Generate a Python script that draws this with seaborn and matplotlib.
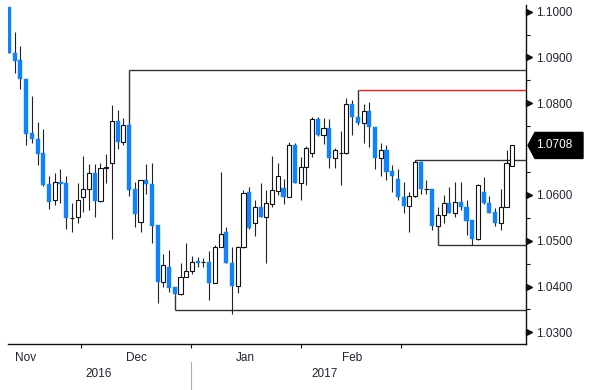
import matplotlib
matplotlib.use("Agg")
import matplotlib.pyplot as plt
import matplotlib.transforms as mtransforms
from matplotlib.patches import Polygon
import numpy as np
import pandas as pd
import seaborn as sns

# ---------------- data (EUR/USD style daily candles) ----------------
opens = [1.1010, 1.0909, 1.0895, 1.0852, 1.0736, 1.0721, 1.0691, 1.0624, 1.0589, 1.0628,
         1.0627, 1.0549, 1.0552, 1.0596, 1.0612, 1.0648, 1.0587, 1.0659, 1.0669, 1.0762,
         1.0716, 1.0753, 1.0613, 1.0541, 1.0633, 1.0624, 1.0534, 1.0410, 1.0443, 1.0398,
         1.0384, 1.0420, 1.0434, 1.0456, 1.0453, 1.0454, 1.0408, 1.0486, 1.0518, 1.0452,
         1.0401, 1.0486, 1.0606, 1.0538, 1.0573, 1.0551, 1.0580, 1.0609, 1.0614, 1.0596,
         1.0710, 1.0627, 1.0660, 1.0691, 1.0765, 1.0731, 1.0747, 1.0681, 1.0691, 1.0692,
         1.0798, 1.0769, 1.0756, 1.0783, 1.0749, 1.0681, 1.0697, 1.0653, 1.0634, 1.0596,
         1.0576, 1.0598, 1.0672, 1.0613, 1.0612, 1.0533, 1.0556, 1.0582, 1.0560, 1.0585,
         1.0574, 1.0545, 1.0503, 1.0607, 1.0582, 1.0563, 1.0538, 1.0573, 1.0664]
highs = [1.1010, 1.0955, 1.0924, 1.0852, 1.0816, 1.0760, 1.0744, 1.0642, 1.0648, 1.0657,
         1.0641, 1.0583, 1.0627, 1.0685, 1.0667, 1.0667, 1.0669, 1.0689, 1.0796, 1.0785,
         1.0767, 1.0753, 1.0629, 1.0633, 1.0667, 1.0669, 1.0534, 1.0472, 1.0480, 1.0398,
         1.0451, 1.0496, 1.0467, 1.0465, 1.0462, 1.0478, 1.0491, 1.0651, 1.0531, 1.0487,
         1.0488, 1.0611, 1.0618, 1.0589, 1.0627, 1.0611, 1.0685, 1.0670, 1.0634, 1.0716,
         1.0713, 1.0682, 1.0707, 1.0771, 1.0769, 1.0767, 1.0765, 1.0702, 1.0740, 1.0811,
         1.0807, 1.0769, 1.0798, 1.0803, 1.0749, 1.0713, 1.0709, 1.0665, 1.0656, 1.0629,
         1.0607, 1.0676, 1.0675, 1.0633, 1.0612, 1.0574, 1.0600, 1.0617, 1.0629, 1.0629,
         1.0589, 1.0545, 1.0624, 1.0640, 1.0598, 1.0571, 1.0612, 1.0697, 1.0709]
lows = [1.0909, 1.0867, 1.0831, 1.0709, 1.0714, 1.0665, 1.0620, 1.0569, 1.0578, 1.0582,
        1.0525, 1.0518, 1.0539, 1.0563, 1.0566, 1.0551, 1.0585, 1.0625, 1.0504, 1.0700,
        1.0709, 1.0598, 1.0531, 1.0520, 1.0603, 1.0496, 1.0365, 1.0398, 1.0389, 1.0381,
        1.0381, 1.0420, 1.0427, 1.0443, 1.0443, 1.0371, 1.0408, 1.0486, 1.0451, 1.0340,
        1.0386, 1.0483, 1.0525, 1.0510, 1.0551, 1.0452, 1.0573, 1.0600, 1.0580, 1.0596,
        1.0627, 1.0589, 1.0622, 1.0683, 1.0729, 1.0711, 1.0658, 1.0658, 1.0622, 1.0689,
        1.0731, 1.0753, 1.0713, 1.0705, 1.0657, 1.0641, 1.0633, 1.0607, 1.0589, 1.0560,
        1.0520, 1.0596, 1.0603, 1.0603, 1.0523, 1.0533, 1.0538, 1.0560, 1.0551, 1.0566,
        1.0512, 1.0491, 1.0502, 1.0580, 1.0560, 1.0532, 1.0523, 1.0573, 1.0664]
closes = [1.0909, 1.0892, 1.0852, 1.0734, 1.0721, 1.0689, 1.0622, 1.0585, 1.0628, 1.0624,
          1.0549, 1.0550, 1.0588, 1.0612, 1.0648, 1.0587, 1.0659, 1.0661, 1.0762, 1.0716,
          1.0753, 1.0611, 1.0558, 1.0633, 1.0623, 1.0533, 1.0410, 1.0448, 1.0396, 1.0384,
          1.0420, 1.0434, 1.0454, 1.0451, 1.0453, 1.0408, 1.0487, 1.0514, 1.0451, 1.0401,
          1.0487, 1.0605, 1.0527, 1.0573, 1.0551, 1.0582, 1.0611, 1.0641, 1.0596, 1.0710,
          1.0627, 1.0662, 1.0702, 1.0765, 1.0731, 1.0745, 1.0681, 1.0697, 1.0692, 1.0798,
          1.0769, 1.0756, 1.0783, 1.0748, 1.0680, 1.0697, 1.0651, 1.0641, 1.0596, 1.0576,
          1.0598, 1.0672, 1.0613, 1.0613, 1.0533, 1.0556, 1.0582, 1.0560, 1.0585, 1.0573,
          1.0544, 1.0503, 1.0622, 1.0582, 1.0561, 1.0538, 1.0574, 1.0670, 1.0708]

month_labels = ["Nov", "Dec", "Jan", "Feb"]
month_label_pos = [2.97, 22.2, 41.4, 59.95]
month_bounds = [12.6, 31.8, 51.0, 68.5]
year_labels = ["2016", "2017"]
year_label_pos = [15.7, 55.2]
year_sep = [31.8]

level_values = [1.0873, 1.0829, 1.0676, 1.0491, 1.0349]
level_start = [21, 61, 71, 75, 29]
level_colors = ["#333333", "#FF1A1A", "#333333", "#333333", "#333333"]

ytick_values = [1.03, 1.04, 1.05, 1.06, 1.08, 1.09, 1.10]
ytick_labels = ["1.0300", "1.0400", "1.0500", "1.0600", "1.0800", "1.0900", "1.1000"]
last_label = "1.0708"

# ---------------- styling ----------------
sns.set_theme(style="white")
plt.rcParams["font.family"] = ["Liberation Sans", "DejaVu Sans"]

BLUE = "#0F83FF"
TXT = "#222233"

df = pd.DataFrame({"open": opens, "high": highs, "low": lows, "close": closes})
df["idx"] = np.arange(len(df))
df["up"] = df["close"] >= df["open"]
df["bottom"] = df[["open", "close"]].min(axis=1)
df["height"] = (df["close"] - df["open"]).abs().clip(lower=0.00004)

fig = plt.figure(figsize=(6.0, 3.9), dpi=100)
W, H = 600, 390
ax = fig.add_axes([8 / W, 46 / H, (526 - 8) / W, (344 - 5) / H])

xmin, xmax = -0.17, 90.4
ax.set_xlim(xmin, xmax)
ax.set_ylim(1.02745, 1.10146)

# wicks
ax.vlines(df["idx"], df["low"], df["high"], color="#222222", lw=0.8, zorder=2)
# bodies
up = df[df["up"]]
dn = df[~df["up"]]
ax.bar(dn["idx"], dn["height"], bottom=dn["bottom"], width=0.72,
       color=BLUE, edgecolor=BLUE, linewidth=0.3, zorder=3)
ax.bar(up["idx"], up["height"], bottom=up["bottom"], width=0.72,
       color="white", edgecolor="#111111", linewidth=0.8, zorder=3)

# support / resistance annotation lines
for lvl, st, col in zip(level_values, level_start, level_colors):
    ax.hlines(lvl, st, xmax, color=col, lw=1.0, zorder=1)
    anchor = highs[st] if lvl > highs[st] else lows[st]
    ax.vlines(st, min(lvl, anchor), max(lvl, anchor), color="#333333", lw=1.0, zorder=1)

# spines
for s in ["left", "top"]:
    ax.spines[s].set_visible(False)
for s in ["right", "bottom"]:
    ax.spines[s].set_visible(True)
    ax.spines[s].set_color("#111111")
    ax.spines[s].set_linewidth(1.0)

# y axis on right
ax.yaxis.tick_right()
ax.set_yticks(ytick_values, ytick_labels)
ax.set_yticks(np.arange(1.035, 1.10, 0.01), minor=True)
ax.tick_params(axis="y", which="major", length=0, pad=7, labelsize=8.5, labelcolor=TXT)
ax.tick_params(axis="y", which="minor", length=3, width=0.8, color="#111111",
               direction="out", right=True, left=False)
blend = mtransforms.blended_transform_factory(ax.transAxes, ax.transData)
tri_tr = blend + mtransforms.ScaledTranslation(0.03, 0, fig.dpi_scale_trans)
ax.plot([1.0] * len(ytick_values), ytick_values, ls="none", marker=">", ms=4,
        color="#111111", transform=tri_tr, clip_on=False)

# x axis ticks at month boundaries
ax.set_xticks(month_bounds, [""] * len(month_bounds))
ax.tick_params(axis="x", which="major", length=3, width=0.8, color="#111111",
               direction="out", bottom=True)
xblend = mtransforms.blended_transform_factory(ax.transData, ax.transAxes)
for lab, pos in zip(month_labels, month_label_pos):
    ax.text(pos, -0.040, lab, transform=xblend, ha="center", va="center",
            fontsize=8.5, color=TXT)
for lab, pos in zip(year_labels, year_label_pos):
    ax.text(pos, -0.089, lab, transform=xblend, ha="center", va="center",
            fontsize=8.5, color=TXT)
for pos in year_sep:
    ax.plot([pos, pos], [-0.053, -0.14], transform=xblend, color="#AAAAAA",
            lw=0.8, clip_on=False)

# last price tag
fig.canvas.draw()
tx, ty = blend.transform((1.0, closes[-1]))
verts = [(tx + 2, ty), (tx + 9, ty + 13), (tx + 57, ty + 13),
         (tx + 57, ty - 13), (tx + 9, ty - 13)]
tag = Polygon(verts, closed=True, facecolor="black", edgecolor="black",
              transform=mtransforms.IdentityTransform(), zorder=5, clip_on=False)
ax.add_patch(tag)
ax.text(1.0, closes[-1], last_label,
        transform=blend + mtransforms.ScaledTranslation(0.10, 0, fig.dpi_scale_trans),
        ha="left", va="center", fontsize=8.5, color="white", zorder=6, clip_on=False)

fig.savefig("out.png", dpi=100)
